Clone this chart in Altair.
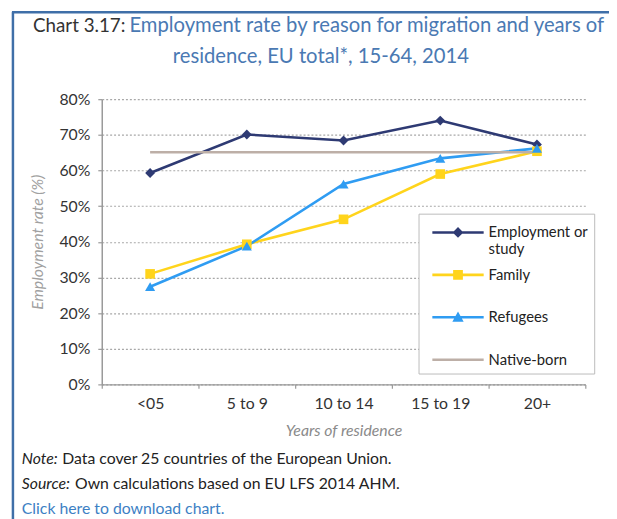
import altair as alt
import pandas as pd

categories = ["<05", "5 to 9", "10 to 14", "15 to 19", "20+"]
series_names = ["Employment or study", "Family", "Refugees", "Native-born"]
employment = [59.3, 70.1, 68.4, 74.0, 67.3]
family = [31.0, 39.3, 46.3, 59.0, 65.4]
refugees = [27.4, 38.8, 56.2, 63.4, 66.2]
native = [65.1, 65.1, 65.1, 65.1, 65.1]
y_ticks = [0, 10, 20, 30, 40, 50, 60, 70, 80]

colors = ["#2e3a73", "#ffd41c", "#2f9cf2", "#bdafa7"]
marker_shapes = ["diamond", "square", "triangle-up"]
marker_sizes = [100, 95, 105]
# legend symbols: a short bar (the line) plus the series marker, drawn filled
legend_symbols = [
    "M-2,-0.1H2V0.1H-2Z M0,-0.42L0.42,0L0,0.42L-0.42,0Z",
    "M-2,-0.1H2V0.1H-2Z M-0.38,-0.38L0.38,-0.38L0.38,0.38L-0.38,0.38Z",
    "M-2,-0.1H2V0.1H-2Z M0,-0.46L0.44,0.34L-0.44,0.34Z",
    "M-2,-0.1H2V0.1H-2Z",
]

chart_label = "Chart 3.17:"
title_line1 = "Employment rate by reason for migration and years of"
title_line2 = "residence, EU total*, 15-64, 2014"
y_title = "Employment rate (%)"
x_title = "Years of residence"
note_label = "Note:"
note_text = "Data cover 25 countries of the European Union."
source_label = "Source:"
source_text = "Own calculations based on EU LFS 2014 AHM."
link_text = "Click here to download chart."

FONT = "Lato"
TITLE_BLUE = "#4a79b3"

rows = []
for name, vals in zip(series_names, [employment, family, refugees, native]):
    for c, v in zip(categories, vals):
        rows.append({"period": c, "series": name, "value": v})
df = pd.DataFrame(rows)

x_enc = alt.X(
    "period:N",
    sort=categories,
    bandPosition=0.5,
    scale=alt.Scale(type="band", domain=categories, paddingInner=0, paddingOuter=0),
    axis=alt.Axis(
        title=x_title,
        tickBand="extent",
        labelAngle=0,
        labelPadding=7,
        titlePadding=12,
        titleFontStyle="italic",
        titleColor="#8a8a8a",
        titleFontWeight="normal",
        grid=False,
    ),
)
y_enc = alt.Y(
    "value:Q",
    scale=alt.Scale(domain=[0, 80], nice=False),
    axis=alt.Axis(
        title=y_title,
        values=y_ticks,
        labelExpr="datum.value + '%'",
        labelPadding=8,
        titlePadding=14,
        titleFontStyle="italic",
        titleColor="#a0a0a0",
        titleFontWeight="normal",
        grid=True,
        gridDash=[2, 2],
        gridColor="#a8a8a8",
        gridWidth=1.2,
    ),
)


def series_scale():
    return alt.Scale(domain=series_names, range=colors)


base = alt.Chart(df)

leg = alt.Legend(
    title=None,
    orient="none",
    legendX=321,
    legendY=116,
    labelExpr="datum.label == 'Employment or study' ? ['Employment or', 'study'] : datum.label",
)

# invisible layer that only feeds the legend (line + marker symbols);
# it comes first so that its enabled legend wins the merge
legend_layer = base.mark_point(filled=True, opacity=0).encode(
    x=x_enc,
    y=y_enc,
    color=alt.Color("series:N", scale=series_scale(), legend=leg),
    shape=alt.Shape(
        "series:N",
        scale=alt.Scale(domain=series_names, range=legend_symbols),
        legend=leg,
    ),
)

lines = base.mark_line(strokeWidth=2.6).encode(
    x=x_enc,
    y=y_enc,
    stroke=alt.Stroke("series:N", scale=series_scale(), legend=None),
    detail="series:N",
)

point_layers = []
for name, shp, sz in zip(series_names[:3], marker_shapes, marker_sizes):
    point_layers.append(
        base.transform_filter(alt.datum.series == name)
        .mark_point(filled=True, opacity=1, shape=shp, size=sz)
        .encode(
            x=x_enc,
            y=y_enc,
            fill=alt.Fill("series:N", scale=series_scale(), legend=None),
        )
    )

one = pd.DataFrame({"k": [0]})

left_rule = alt.Chart(one).mark_rule(color="#3f6fa8", strokeWidth=2.5).encode(
    x=alt.value(-90), y=alt.value(-88), y2=alt.value(440)
)
top_rule = alt.Chart(one).mark_rule(color="#3f6fa8", strokeWidth=2.5).encode(
    x=alt.value(-91), x2=alt.value(520), y=alt.value(-88)
)


def txt(s, x, y, color="#222222", size=16, style="normal", align="left"):
    return alt.Chart(pd.DataFrame({"t": [s]})).mark_text(
        align=align, baseline="alphabetic", font=FONT, fontSize=size,
        color=color, fontStyle=style,
    ).encode(text="t:N", x=alt.value(x), y=alt.value(y))


texts = [
    txt(chart_label, 24, -68, color="#333333", size=19, align="right"),
    txt(title_line1, 28, -68, color=TITLE_BLUE, size=20.5),
    txt(title_line2, 222, -37, color=TITLE_BLUE, size=20.5, align="center"),
    txt(note_label, -81, 370, style="italic"),
    txt(note_text, -40, 370),
    txt(source_label, -81, 395, style="italic"),
    txt(source_text, -27, 395),
    txt(link_text, -81, 420, color="#3d7fc4"),
]

chart = alt.layer(
    legend_layer, lines, *point_layers, left_rule, top_rule, *texts
).properties(
    width=490,
    height=289,
    autosize=alt.AutoSizeParams(type="none"),
    padding={"left": 95, "top": 89, "right": 24, "bottom": 133},
).configure_view(stroke=None).configure_axis(
    labelFont=FONT,
    titleFont=FONT,
    labelFontSize=16,
    titleFontSize=16,
    labelColor="#333333",
    domainColor="#999999",
    domainWidth=1.5,
    tickColor="#999999",
    tickSize=4,
    tickWidth=1.2,
).configure_legend(
    orient="none",
    legendX=321,
    legendY=116,
    symbolSize=676,
    symbolOpacity=1,
    symbolStrokeWidth=0,
    symbolOffset=21,
    labelFont=FONT,
    labelFontSize=15,
    labelColor="#222222",
    labelOffset=18,
    padding=6,
    strokeColor="#bbbbbb",
    fillColor="white",
    rowPadding=5,
    gridAlign="all",
)

chart.save("out.html", embed_options={"renderer": "svg", "actions": False})
